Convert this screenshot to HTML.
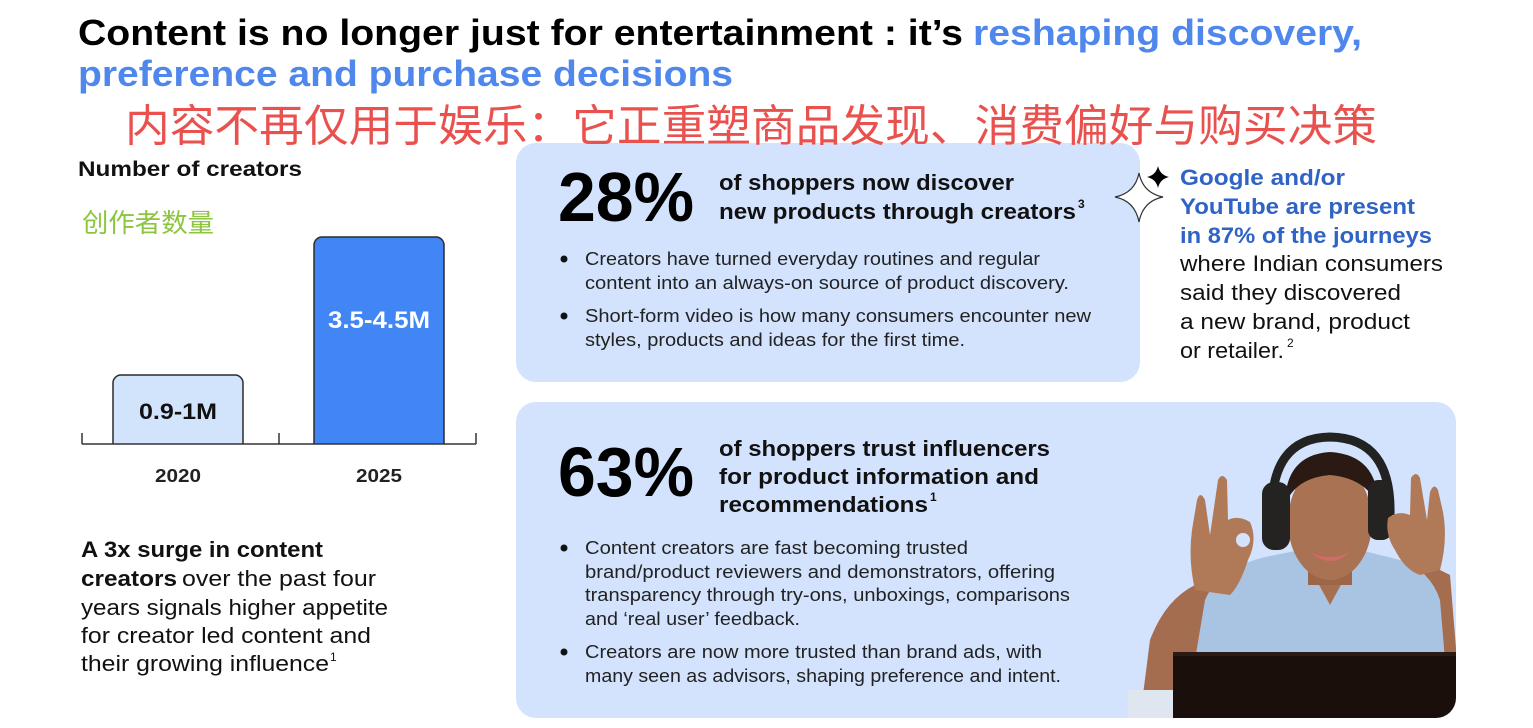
<!DOCTYPE html>
<html><head><meta charset="utf-8">
<style>
html,body{margin:0;padding:0;background:#fff;}
svg{display:block;}
text{font-family:"Liberation Sans","Noto Sans CJK SC",sans-serif;}
.b{font-weight:bold;}
</style></head>
<body>
<svg width="1533" height="728" viewBox="0 0 1533 728" xmlns="http://www.w3.org/2000/svg">
<rect width="1533" height="728" fill="#fff"/>
<defs>
<clipPath id="c2"><rect x="516" y="402" width="940" height="316" rx="20"/></clipPath>
</defs>

<!-- cards -->
<rect x="516" y="143" width="624" height="239" rx="20" fill="#d3e3fd"/>
<rect x="516" y="402" width="940" height="316" rx="20" fill="#d3e3fd"/>

<!-- Title -->
<text x="78" y="45" font-size="36" class="b" fill="#000" textLength="885" lengthAdjust="spacingAndGlyphs">Content is no longer just for entertainment : it’s</text>
<text x="973" y="45" font-size="36" class="b" fill="#4f87ec" textLength="389" lengthAdjust="spacingAndGlyphs">reshaping discovery,</text>
<text x="78" y="86" font-size="36" class="b" fill="#4f87ec" textLength="655" lengthAdjust="spacingAndGlyphs">preference and purchase decisions</text>
<text x="125" y="141" font-size="44" fill="#e9514f" textLength="1252" lengthAdjust="spacingAndGlyphs" style="font-family:'Noto Sans CJK SC',sans-serif">内容不再仅用于娱乐：它正重塑商品发现、消费偏好与购买决策</text>

<!-- Left chart -->
<text x="78" y="176" font-size="21" class="b" fill="#111" textLength="224" lengthAdjust="spacingAndGlyphs">Number of creators</text>
<text x="82" y="232" font-size="26" fill="#8cc63f" textLength="132" lengthAdjust="spacingAndGlyphs" style="font-family:'Noto Sans CJK SC',sans-serif">创作者数量</text>

<path d="M113,444 V383 a8,8 0 0 1 8,-8 H235 a8,8 0 0 1 8,8 V444" fill="#d2e3fc" stroke="#2b2b2b" stroke-width="1.5"/>
<path d="M314,444 V245 a8,8 0 0 1 8,-8 H436 a8,8 0 0 1 8,8 V444" fill="#4285f4" stroke="#2b2b2b" stroke-width="1.5"/>
<line x1="82" y1="444" x2="476" y2="444" stroke="#333" stroke-width="1.5"/>
<line x1="82" y1="433" x2="82" y2="444" stroke="#333" stroke-width="1.5"/>
<line x1="279" y1="433" x2="279" y2="444" stroke="#333" stroke-width="1.5"/>
<line x1="476" y1="433" x2="476" y2="444" stroke="#333" stroke-width="1.5"/>
<text x="139" y="419" font-size="22" class="b" fill="#111" textLength="78" lengthAdjust="spacingAndGlyphs">0.9-1M</text>
<text x="328" y="328" font-size="24" class="b" fill="#fff" textLength="102" lengthAdjust="spacingAndGlyphs">3.5-4.5M</text>
<text x="155" y="482" font-size="18" class="b" fill="#222" textLength="46" lengthAdjust="spacingAndGlyphs">2020</text>
<text x="356" y="482" font-size="18" class="b" fill="#222" textLength="46" lengthAdjust="spacingAndGlyphs">2025</text>

<!-- bottom-left text -->
<text x="81" y="557" font-size="22" class="b" fill="#111" textLength="242" lengthAdjust="spacingAndGlyphs">A 3x surge in content</text>
<text x="81" y="586" font-size="22" class="b" fill="#111" textLength="96" lengthAdjust="spacingAndGlyphs">creators</text>
<text x="182" y="586" font-size="22" fill="#111" textLength="194" lengthAdjust="spacingAndGlyphs">over the past four</text>
<text x="81" y="615" font-size="22" fill="#111" textLength="307" lengthAdjust="spacingAndGlyphs">years signals higher appetite</text>
<text x="81" y="643" font-size="22" fill="#111" textLength="290" lengthAdjust="spacingAndGlyphs">for creator led content and</text>
<text x="81" y="671" font-size="22" fill="#111" textLength="248" lengthAdjust="spacingAndGlyphs">their growing influence</text>
<text x="330" y="661" font-size="12" fill="#111">1</text>

<!-- Card 1 -->
<text x="558" y="221" font-size="70" class="b" fill="#000" textLength="136" lengthAdjust="spacingAndGlyphs">28%</text>
<text x="719" y="190" font-size="22" class="b" fill="#111" textLength="295" lengthAdjust="spacingAndGlyphs">of shoppers now discover</text>
<text x="719" y="219" font-size="22" class="b" fill="#111" textLength="357" lengthAdjust="spacingAndGlyphs">new products through creators</text>
<text x="1078" y="208" font-size="12" class="b" fill="#111">3</text>
<circle cx="564" cy="259" r="3.5" fill="#111"/>
<text x="585" y="265" font-size="18" fill="#222" textLength="455" lengthAdjust="spacingAndGlyphs">Creators have turned everyday routines and regular</text>
<text x="585" y="289" font-size="18" fill="#222" textLength="484" lengthAdjust="spacingAndGlyphs">content into an always-on source of product discovery.</text>
<circle cx="564" cy="316" r="3.5" fill="#111"/>
<text x="585" y="322" font-size="18" fill="#222" textLength="506" lengthAdjust="spacingAndGlyphs">Short-form video is how many consumers encounter new</text>
<text x="585" y="346" font-size="18" fill="#222" textLength="380" lengthAdjust="spacingAndGlyphs">styles, products and ideas for the first time.</text>

<!-- sparkles -->
<path d="M1139,173 Q1143,193 1163,197 Q1143,201 1139,222 Q1135,201 1115,197 Q1135,193 1139,173 Z" fill="#fff" stroke="#333" stroke-width="1.2"/>
<path d="M1158,166 Q1160,175 1169,177 Q1160,179 1158,188 Q1156,179 1147,177 Q1156,175 1158,166 Z" fill="#000"/>

<!-- right text -->
<text x="1180" y="185" font-size="22" class="b" fill="#2f63c6" textLength="165" lengthAdjust="spacingAndGlyphs">Google and/or</text>
<text x="1180" y="214" font-size="22" class="b" fill="#2f63c6" textLength="235" lengthAdjust="spacingAndGlyphs">YouTube are present</text>
<text x="1180" y="243" font-size="22" class="b" fill="#2f63c6" textLength="252" lengthAdjust="spacingAndGlyphs">in 87% of the journeys</text>
<text x="1180" y="271" font-size="22" fill="#111" textLength="263" lengthAdjust="spacingAndGlyphs">where Indian consumers</text>
<text x="1180" y="300" font-size="22" fill="#111" textLength="221" lengthAdjust="spacingAndGlyphs">said they discovered</text>
<text x="1180" y="329" font-size="22" fill="#111" textLength="230" lengthAdjust="spacingAndGlyphs">a new brand, product</text>
<text x="1180" y="358" font-size="22" fill="#111" textLength="104" lengthAdjust="spacingAndGlyphs">or retailer.</text>
<text x="1287" y="347" font-size="12" fill="#111">2</text>

<!-- Card 2 -->
<text x="558" y="496" font-size="70" class="b" fill="#000" textLength="136" lengthAdjust="spacingAndGlyphs">63%</text>
<text x="719" y="456" font-size="22" class="b" fill="#111" textLength="331" lengthAdjust="spacingAndGlyphs">of shoppers trust influencers</text>
<text x="719" y="484" font-size="22" class="b" fill="#111" textLength="320" lengthAdjust="spacingAndGlyphs">for product information and</text>
<text x="719" y="512" font-size="22" class="b" fill="#111" textLength="209" lengthAdjust="spacingAndGlyphs">recommendations</text>
<text x="930" y="501" font-size="12" class="b" fill="#111">1</text>
<circle cx="564" cy="548" r="3.5" fill="#111"/>
<text x="585" y="554" font-size="18" fill="#222" textLength="383" lengthAdjust="spacingAndGlyphs">Content creators are fast becoming trusted</text>
<text x="585" y="578" font-size="18" fill="#222" textLength="470" lengthAdjust="spacingAndGlyphs">brand/product reviewers and demonstrators, offering</text>
<text x="585" y="601" font-size="18" fill="#222" textLength="485" lengthAdjust="spacingAndGlyphs">transparency through try-ons, unboxings, comparisons</text>
<text x="585" y="625" font-size="18" fill="#222" textLength="215" lengthAdjust="spacingAndGlyphs">and ‘real user’ feedback.</text>
<circle cx="564" cy="652" r="3.5" fill="#111"/>
<text x="585" y="658" font-size="18" fill="#222" textLength="457" lengthAdjust="spacingAndGlyphs">Creators are now more trusted than brand ads, with</text>
<text x="585" y="682" font-size="18" fill="#222" textLength="476" lengthAdjust="spacingAndGlyphs">many seen as advisors, shaping preference and intent.</text>

<!-- Photo illustration -->
<g clip-path="url(#c2)">
  <!-- left arm -->
  <path d="M1140,718 L1150,640 Q1165,600 1195,585 L1230,595 Q1205,630 1190,680 L1180,718 Z" fill="#a56d4f"/>
  <path d="M1128,690 L1175,690 L1175,718 L1128,718 Z" fill="#dfe6ef"/>
  <!-- right arm -->
  <path d="M1420,560 L1450,575 L1457,660 L1430,660 Z" fill="#a56d4f"/>
  <!-- shirt -->
  <path d="M1205,600 Q1220,565 1275,555 L1300,550 L1330,605 L1360,550 L1400,560 Q1430,570 1440,600 L1445,660 L1195,660 Z" fill="#a9c4e2"/>
  <path d="M1300,550 L1330,605 L1360,550 Z" fill="#a5704f"/>
  <!-- neck -->
  <rect x="1308" y="560" width="44" height="25" fill="#9c6647"/>
  <!-- face -->
  <ellipse cx="1330" cy="522" rx="42" ry="58" fill="#a97253"/>
  <path d="M1310,552 Q1330,562 1350,552 Q1330,570 1310,552 Z" fill="#d26a6a"/>
  <!-- hair -->
  <path d="M1285,505 Q1285,455 1330,452 Q1378,455 1378,505 Q1365,478 1330,475 Q1295,478 1285,505 Z" fill="#2b1a14"/>
  <!-- headband -->
  <path d="M1272,515 Q1270,438 1330,437 Q1392,438 1390,515" fill="none" stroke="#222" stroke-width="9"/>
  <rect x="1262" y="482" width="28" height="68" rx="12" fill="#252222"/>
  <rect x="1368" y="480" width="24" height="60" rx="10" fill="#252222"/>
  <!-- left hand (OK sign) -->
  <path d="M1195,590 Q1188,560 1192,530 L1197,500 Q1200,490 1205,500 L1210,535 L1218,480 Q1222,472 1227,480 L1228,520 Q1238,515 1250,522 Q1258,540 1248,560 Q1240,585 1230,595 Z" fill="#b07a59"/>
  <circle cx="1243" cy="540" r="7" fill="#d3e3fd"/>
  <!-- right hand (OK sign) -->
  <path d="M1440,570 Q1448,540 1443,512 L1438,490 Q1434,482 1430,492 L1427,520 L1420,478 Q1416,470 1411,478 L1410,515 Q1398,510 1388,518 Q1385,535 1395,550 Q1405,570 1420,575 Z" fill="#b07a59"/>
  <!-- laptop -->
  <rect x="1173" y="652" width="284" height="66" fill="#1b0f0b"/>
  <rect x="1173" y="652" width="284" height="4" fill="#2a1b16"/>
</g>
</svg>
</body></html>
